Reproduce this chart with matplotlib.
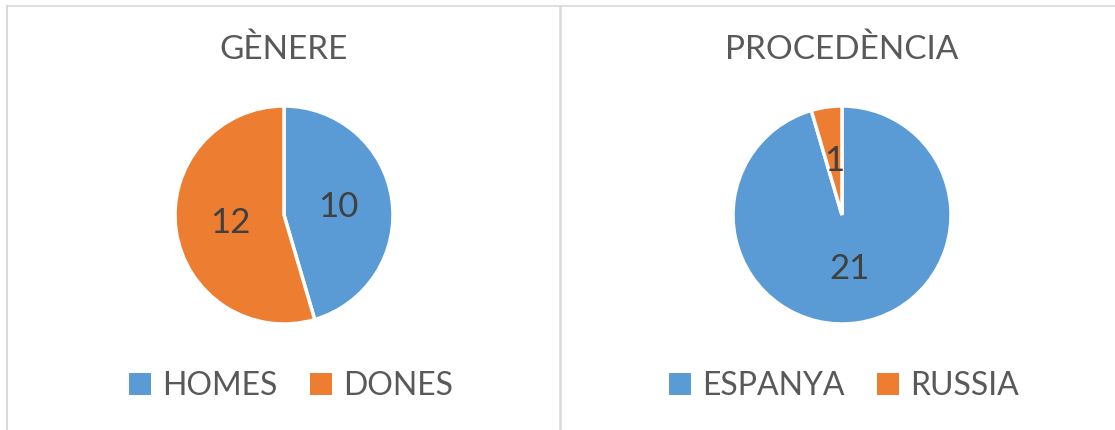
import matplotlib.pyplot as plt
from matplotlib.lines import Line2D
from matplotlib.patches import Patch

plt.rcParams['font.family'] = ['Lato', 'DejaVu Sans']

# Data
genere_labels = ["HOMES", "DONES"]
genere_values = [10, 12]
proc_labels = ["ESPANYA", "RUSSIA"]
proc_values = [21, 1]

colors = ["#5B9BD5", "#ED7D31"]
text_grey = "#595959"
label_grey = "#404040"

W, H = 1115, 430
fig = plt.figure(figsize=(W / 100, H / 100), dpi=100)
fig.patch.set_facecolor("white")


def px_axes(cx, cy, r):
    # axes placed so the pie of radius r (px) sits centered at (cx, cy) from top-left
    half = r * 1.25
    return fig.add_axes([(cx - half) / W, (H - cy - half) / H, 2 * half / W, 2 * half / H])


def draw_pie(cx, title, labels, values, leg_x):
    ax = px_axes(cx, 215, 109)
    ax.pie(values, colors=colors, startangle=90, counterclock=False,
           autopct=lambda p: "%d" % round(p * sum(values) / 100.0),
           pctdistance=0.5,
           wedgeprops=dict(edgecolor="white", linewidth=2.5),
           textprops=dict(color=label_grey, fontsize=25))
    ax.set_xlim(-1.25, 1.25)
    ax.set_ylim(-1.25, 1.25)
    ax.set_aspect("equal")
    fig.text(cx / W, 1 - 50 / H, title, ha="center", va="center",
             fontsize=24, color=text_grey)
    handles = [Patch(facecolor=c, edgecolor="none") for c in colors]
    fig.legend(handles, labels, loc="center", bbox_to_anchor=(leg_x / W, 1 - 386 / H),
               ncol=2, frameon=False, fontsize=23, labelcolor=text_grey,
               handlelength=0.7, handleheight=0.7, handletextpad=0.35,
               columnspacing=1.0, borderaxespad=0)


draw_pie(284, "GÈNERE", genere_labels, genere_values, 291)
draw_pie(842, "PROCEDÈNCIA", proc_labels, proc_values, 844)

# chart borders
border = "#D9D9D9"
fig.add_artist(Line2D([7 / W, 1], [1 - 6 / H, 1 - 6 / H], color=border, lw=1.2))
fig.add_artist(Line2D([7 / W, 7 / W], [0, 1 - 6 / H], color=border, lw=1.5))
fig.add_artist(Line2D([559.5 / W, 559.5 / W], [0, 1 - 6 / H], color=border, lw=1.8))

fig.savefig("out.png", dpi=100, facecolor="white")
